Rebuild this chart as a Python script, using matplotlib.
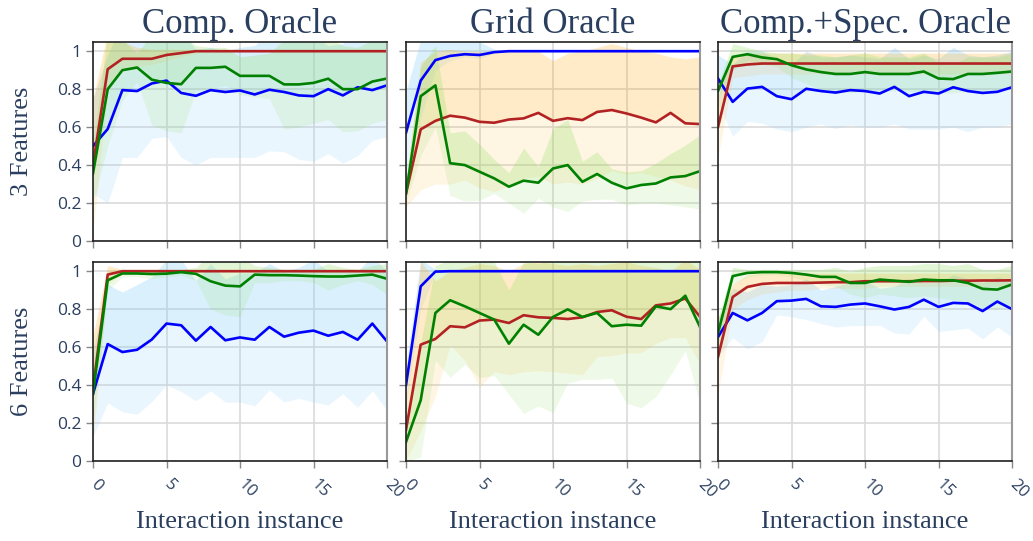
import matplotlib.pyplot as plt

x = list(range(21))

# ---- 3 features, Comp. Oracle
f3_comp_blue = [0.50, 0.59, 0.795, 0.79, 0.83, 0.845, 0.78, 0.765, 0.795, 0.785, 0.793, 0.772, 0.797, 0.785, 0.767, 0.763, 0.80, 0.767, 0.81, 0.795, 0.82]
f3_comp_blue_lo = [0.25, 0.20, 0.44, 0.44, 0.54, 0.55, 0.44, 0.40, 0.44, 0.44, 0.44, 0.44, 0.475, 0.47, 0.43, 0.42, 0.46, 0.41, 0.45, 0.53, 0.55]
f3_comp_blue_hi = [0.75, 0.98, 1.15, 1.14, 1.12, 1.14, 1.10, 1.01, 1.02, 1.00, 1.02, 1.03, 1.10, 1.10, 1.10, 1.08, 1.03, 1.04, 1.15, 1.10, 1.10]
f3_comp_red = [0.40, 0.905, 0.96, 0.96, 0.96, 0.98, 0.99, 1.0, 1.0, 1.0, 1.0, 1.0, 1.0, 1.0, 1.0, 1.0, 1.0, 1.0, 1.0, 1.0, 1.0]
f3_comp_red_lo = [0.05, 0.80, 0.90, 0.92, 0.93, 0.95, 0.97, 0.99, 1.0, 1.0, 1.0, 1.0, 1.0, 1.0, 1.0, 1.0, 1.0, 1.0, 1.0, 1.0, 1.0]
f3_comp_red_hi = [0.75, 1.10, 1.05, 1.02, 1.01, 1.01, 1.01, 1.01, 1.0, 1.0, 1.0, 1.0, 1.0, 1.0, 1.0, 1.0, 1.0, 1.0, 1.0, 1.0, 1.0]
f3_comp_green = [0.356, 0.80, 0.90, 0.914, 0.85, 0.833, 0.826, 0.912, 0.912, 0.918, 0.87, 0.87, 0.87, 0.825, 0.825, 0.833, 0.855, 0.80, 0.80, 0.84, 0.856]
f3_comp_green_lo = [0.20, 0.50, 0.74, 0.84, 0.61, 0.58, 0.57, 0.79, 0.80, 0.82, 0.77, 0.76, 0.75, 0.59, 0.60, 0.62, 0.64, 0.575, 0.58, 0.62, 0.64]
f3_comp_green_hi = [0.50, 1.10, 1.06, 0.99, 1.09, 1.09, 1.08, 1.03, 1.02, 1.02, 0.97, 0.98, 0.99, 1.06, 1.05, 1.05, 1.07, 1.03, 1.02, 1.06, 1.07]

# ---- 3 features, Grid Oracle
f3_grid_blue = [0.57, 0.845, 0.953, 0.975, 0.984, 0.98, 0.995, 1.0, 1.0, 1.0, 1.0, 1.0, 1.0, 1.0, 1.0, 1.0, 1.0, 1.0, 1.0, 1.0, 1.0]
f3_grid_blue_lo = [0.35, 0.65, 0.90, 0.95, 0.97, 0.96, 0.99, 1.0, 1.0, 1.0, 1.0, 1.0, 1.0, 1.0, 1.0, 1.0, 1.0, 1.0, 1.0, 1.0, 1.0]
f3_grid_blue_hi = [0.79, 1.06, 1.06, 1.06, 1.06, 1.05, 1.01, 1.0, 1.0, 1.0, 1.0, 1.0, 1.0, 1.0, 1.0, 1.0, 1.0, 1.0, 1.0, 1.0, 1.0]
f3_grid_red = [0.25, 0.588, 0.633, 0.66, 0.65, 0.628, 0.623, 0.64, 0.646, 0.675, 0.633, 0.647, 0.637, 0.68, 0.69, 0.672, 0.65, 0.625, 0.675, 0.62, 0.616]
f3_grid_red_lo = [0.18, 0.27, 0.30, 0.30, 0.32, 0.28, 0.26, 0.29, 0.33, 0.34, 0.30, 0.31, 0.30, 0.33, 0.37, 0.35, 0.36, 0.34, 0.32, 0.29, 0.27]
f3_grid_red_hi = [0.32, 0.94, 1.0, 1.01, 1.0, 1.0, 0.99, 1.0, 1.0, 1.0, 0.95, 0.99, 1.0, 1.02, 1.04, 1.02, 1.0, 0.99, 0.97, 0.96, 0.97]
f3_grid_green = [0.25, 0.763, 0.82, 0.41, 0.40, 0.365, 0.33, 0.286, 0.318, 0.307, 0.382, 0.40, 0.312, 0.353, 0.307, 0.277, 0.295, 0.303, 0.335, 0.342, 0.368]
f3_grid_green_lo = [0.20, 0.45, 0.60, 0.24, 0.21, 0.215, 0.25, 0.20, 0.146, 0.225, 0.18, 0.155, 0.21, 0.22, 0.22, 0.19, 0.20, 0.20, 0.19, 0.18, 0.168]
f3_grid_green_hi = [0.30, 0.92, 1.03, 0.57, 0.58, 0.51, 0.43, 0.36, 0.49, 0.39, 0.59, 0.64, 0.42, 0.47, 0.38, 0.365, 0.37, 0.41, 0.46, 0.505, 0.56]

# ---- 3 features, Comp.+Spec. Oracle
f3_spec_blue = [0.856, 0.733, 0.803, 0.812, 0.763, 0.747, 0.802, 0.79, 0.782, 0.795, 0.79, 0.777, 0.812, 0.763, 0.786, 0.777, 0.81, 0.79, 0.78, 0.786, 0.81]
f3_spec_blue_lo = [0.73, 0.55, 0.63, 0.62, 0.59, 0.575, 0.60, 0.616, 0.593, 0.61, 0.60, 0.60, 0.616, 0.59, 0.59, 0.59, 0.60, 0.575, 0.60, 0.60, 0.616]
f3_spec_blue_hi = [0.98, 0.93, 1.0, 1.0, 0.96, 0.93, 1.0, 0.97, 0.97, 0.98, 0.97, 0.96, 1.02, 0.96, 0.98, 0.96, 1.02, 0.98, 0.97, 0.98, 1.0]
f3_spec_red = [0.60, 0.92, 0.93, 0.935, 0.935, 0.935, 0.935, 0.935, 0.935, 0.935, 0.935, 0.935, 0.935, 0.935, 0.935, 0.935, 0.935, 0.935, 0.935, 0.935, 0.935]
f3_spec_red_lo = [0.44, 0.86, 0.87, 0.88, 0.88, 0.88, 0.88, 0.88, 0.88, 0.88, 0.88, 0.88, 0.88, 0.88, 0.88, 0.88, 0.88, 0.88, 0.88, 0.88, 0.88]
f3_spec_red_hi = [0.76, 0.98, 0.99, 0.99, 0.99, 0.99, 0.99, 0.99, 0.99, 0.99, 0.99, 0.99, 0.99, 0.99, 0.99, 0.99, 0.99, 0.99, 0.99, 0.99, 0.99]
f3_spec_green = [0.79, 0.97, 0.984, 0.967, 0.958, 0.926, 0.904, 0.89, 0.88, 0.88, 0.89, 0.88, 0.88, 0.88, 0.893, 0.856, 0.853, 0.88, 0.88, 0.886, 0.893]
f3_spec_green_lo = [0.75, 0.90, 0.95, 0.93, 0.92, 0.86, 0.83, 0.80, 0.79, 0.78, 0.79, 0.79, 0.79, 0.79, 0.79, 0.78, 0.78, 0.79, 0.79, 0.80, 0.80]
f3_spec_green_hi = [0.83, 1.04, 1.02, 1.0, 0.99, 0.99, 0.98, 0.98, 0.97, 0.98, 0.99, 0.97, 0.97, 0.97, 0.99, 0.94, 0.93, 0.97, 0.97, 0.97, 0.99]

# ---- 6 features, Comp. Oracle
f6_comp_blue = [0.354, 0.616, 0.574, 0.586, 0.64, 0.724, 0.715, 0.634, 0.706, 0.636, 0.651, 0.639, 0.706, 0.655, 0.676, 0.687, 0.66, 0.68, 0.639, 0.724, 0.63]
f6_comp_blue_lo = [0.13, 0.305, 0.26, 0.246, 0.313, 0.40, 0.366, 0.317, 0.37, 0.31, 0.31, 0.29, 0.375, 0.31, 0.33, 0.31, 0.295, 0.354, 0.283, 0.371, 0.266]
f6_comp_blue_hi = [0.58, 0.93, 0.89, 0.93, 0.97, 1.06, 1.06, 0.95, 1.04, 0.96, 0.99, 0.99, 1.04, 1.0, 1.02, 1.06, 1.0, 1.0, 1.0, 1.08, 1.0]
f6_comp_red = [0.38, 0.982, 1.0, 1.0, 1.0, 1.0, 1.0, 1.0, 1.0, 1.0, 1.0, 1.0, 1.0, 1.0, 1.0, 1.0, 1.0, 1.0, 1.0, 1.0, 1.0]
f6_comp_red_lo = [0.10, 0.93, 0.99, 1.0, 1.0, 1.0, 1.0, 1.0, 1.0, 1.0, 1.0, 1.0, 1.0, 1.0, 1.0, 1.0, 1.0, 1.0, 1.0, 1.0, 1.0]
f6_comp_red_hi = [0.66, 1.03, 1.01, 1.0, 1.0, 1.0, 1.0, 1.0, 1.0, 1.0, 1.0, 1.0, 1.0, 1.0, 1.0, 1.0, 1.0, 1.0, 1.0, 1.0, 1.0]
f6_comp_green = [0.354, 0.952, 0.988, 0.988, 0.985, 0.987, 0.995, 0.986, 0.947, 0.924, 0.92, 0.982, 0.979, 0.979, 0.977, 0.974, 0.972, 0.972, 0.977, 0.982, 0.96]
f6_comp_green_lo = [0.20, 0.90, 0.97, 0.97, 0.96, 0.97, 0.98, 0.95, 0.80, 0.77, 0.76, 0.94, 0.94, 0.95, 0.95, 0.94, 0.90, 0.93, 0.95, 0.93, 0.877]
f6_comp_green_hi = [0.50, 1.0, 1.01, 1.01, 1.01, 1.01, 1.01, 1.02, 1.09, 1.08, 1.08, 1.03, 1.02, 1.01, 1.01, 1.01, 1.04, 1.02, 1.01, 1.03, 1.04]

# ---- 6 features, Grid Oracle
f6_grid_blue = [0.40, 0.92, 0.998, 1.0, 1.0, 1.0, 1.0, 1.0, 1.0, 1.0, 1.0, 1.0, 1.0, 1.0, 1.0, 1.0, 1.0, 1.0, 1.0, 1.0, 1.0]
f6_grid_blue_lo = [0.30, 0.80, 0.99, 1.0, 1.0, 1.0, 1.0, 1.0, 1.0, 1.0, 1.0, 1.0, 1.0, 1.0, 1.0, 1.0, 1.0, 1.0, 1.0, 1.0, 1.0]
f6_grid_blue_hi = [0.50, 1.06, 1.01, 1.0, 1.0, 1.0, 1.0, 1.0, 1.0, 1.0, 1.0, 1.0, 1.0, 1.0, 1.0, 1.0, 1.0, 1.0, 1.0, 1.0, 1.0]
f6_grid_red = [0.164, 0.613, 0.643, 0.71, 0.704, 0.74, 0.745, 0.727, 0.768, 0.757, 0.754, 0.748, 0.757, 0.785, 0.794, 0.76, 0.748, 0.82, 0.83, 0.856, 0.76]
f6_grid_red_lo = [0.0, 0.16, 0.34, 0.61, 0.53, 0.39, 0.47, 0.455, 0.47, 0.475, 0.47, 0.463, 0.455, 0.55, 0.555, 0.57, 0.57, 0.62, 0.65, 0.65, 0.51]
f6_grid_red_hi = [0.33, 1.05, 0.95, 1.0, 1.02, 1.04, 1.03, 1.0, 1.04, 1.05, 1.04, 1.03, 1.04, 1.03, 1.04, 1.05, 1.03, 1.02, 1.0, 1.06, 1.01]
f6_grid_green = [0.10, 0.32, 0.78, 0.847, 0.815, 0.78, 0.745, 0.618, 0.718, 0.665, 0.759, 0.799, 0.759, 0.78, 0.71, 0.718, 0.713, 0.815, 0.80, 0.871, 0.706]
f6_grid_green_lo = [0.0, 0.02, 0.53, 0.44, 0.51, 0.44, 0.45, 0.35, 0.25, 0.29, 0.255, 0.41, 0.43, 0.43, 0.437, 0.305, 0.28, 0.34, 0.454, 0.58, 0.305]
f6_grid_green_hi = [0.20, 0.62, 1.03, 1.06, 1.10, 1.10, 1.05, 0.90, 1.05, 1.04, 1.06, 1.05, 1.05, 1.06, 1.05, 1.05, 1.05, 1.06, 1.05, 1.16, 1.05]

# ---- 6 features, Comp.+Spec. Oracle
f6_spec_blue = [0.653, 0.78, 0.741, 0.78, 0.842, 0.845, 0.854, 0.815, 0.812, 0.824, 0.83, 0.815, 0.798, 0.812, 0.85, 0.812, 0.833, 0.83, 0.79, 0.84, 0.80]
f6_spec_blue_lo = [0.55, 0.65, 0.59, 0.63, 0.77, 0.76, 0.745, 0.724, 0.706, 0.713, 0.713, 0.715, 0.674, 0.669, 0.762, 0.683, 0.69, 0.70, 0.643, 0.706, 0.653]
f6_spec_blue_hi = [0.75, 0.91, 0.89, 0.93, 0.92, 0.93, 0.96, 0.90, 0.92, 0.94, 0.95, 0.91, 0.92, 0.96, 0.94, 0.94, 0.98, 0.96, 0.94, 0.97, 0.95]
f6_spec_red = [0.548, 0.864, 0.917, 0.933, 0.938, 0.938, 0.938, 0.94, 0.942, 0.942, 0.947, 0.947, 0.947, 0.947, 0.948, 0.948, 0.95, 0.95, 0.951, 0.951, 0.952]
f6_spec_red_lo = [0.35, 0.80, 0.85, 0.88, 0.89, 0.90, 0.90, 0.91, 0.91, 0.91, 0.91, 0.92, 0.92, 0.92, 0.92, 0.92, 0.92, 0.92, 0.92, 0.92, 0.92]
f6_spec_red_hi = [0.75, 0.93, 0.98, 0.99, 0.99, 0.99, 0.99, 0.99, 0.99, 0.99, 0.99, 0.99, 0.99, 0.99, 0.99, 0.99, 0.99, 0.99, 0.99, 0.99, 0.99]
f6_spec_green = [0.674, 0.974, 0.991, 0.995, 0.995, 0.991, 0.982, 0.97, 0.97, 0.938, 0.938, 0.956, 0.95, 0.944, 0.956, 0.952, 0.952, 0.938, 0.907, 0.903, 0.93]
f6_spec_green_lo = [0.60, 0.93, 0.97, 0.98, 0.98, 0.97, 0.95, 0.93, 0.92, 0.88, 0.86, 0.88, 0.87, 0.86, 0.87, 0.86, 0.85, 0.84, 0.81, 0.80, 0.83]
f6_spec_green_hi = [0.75, 1.02, 1.01, 1.01, 1.01, 1.01, 1.01, 1.01, 1.02, 1.0, 1.02, 1.03, 1.03, 1.03, 1.04, 1.04, 1.03, 1.04, 1.01, 1.01, 1.03]

titles = ['Comp. Oracle', 'Grid Oracle', 'Comp.+Spec. Oracle']
row_labels = ['3 Features', '6 Features']
xlabel = 'Interaction instance'
yticks = [0, 0.2, 0.4, 0.6, 0.8, 1]
ytick_labels = ['0', '0.2', '0.4', '0.6', '0.8', '1']
xticks = [0, 5, 10, 15, 20]

panels = [
    [(f3_comp_blue, f3_comp_blue_lo, f3_comp_blue_hi), (f3_comp_red, f3_comp_red_lo, f3_comp_red_hi), (f3_comp_green, f3_comp_green_lo, f3_comp_green_hi)],
    [(f3_grid_blue, f3_grid_blue_lo, f3_grid_blue_hi), (f3_grid_red, f3_grid_red_lo, f3_grid_red_hi), (f3_grid_green, f3_grid_green_lo, f3_grid_green_hi)],
    [(f3_spec_blue, f3_spec_blue_lo, f3_spec_blue_hi), (f3_spec_red, f3_spec_red_lo, f3_spec_red_hi), (f3_spec_green, f3_spec_green_lo, f3_spec_green_hi)],
    [(f6_comp_blue, f6_comp_blue_lo, f6_comp_blue_hi), (f6_comp_red, f6_comp_red_lo, f6_comp_red_hi), (f6_comp_green, f6_comp_green_lo, f6_comp_green_hi)],
    [(f6_grid_blue, f6_grid_blue_lo, f6_grid_blue_hi), (f6_grid_red, f6_grid_red_lo, f6_grid_red_hi), (f6_grid_green, f6_grid_green_lo, f6_grid_green_hi)],
    [(f6_spec_blue, f6_spec_blue_lo, f6_spec_blue_hi), (f6_spec_red, f6_spec_red_lo, f6_spec_red_hi), (f6_spec_green, f6_spec_green_lo, f6_spec_green_hi)],
]

line_colors = ['#0000ff', '#b22222', '#008000']
band_colors = ['#87cefa', '#ffa500', '#8fe060']
band_alpha_up = [0.30, 0.22, 0.26]
band_alpha_lo = [0.17, 0.11, 0.15]

text_col = '#2a3f5f'
W, H = 1033, 541
fig = plt.figure(figsize=(W / 100, H / 100), dpi=100)

lefts = [93, 406, 718]
aw = 294
tops = [41.7, 261.7]
ah = 199.3

for i in range(6):
    r, c = divmod(i, 3)
    ax = fig.add_axes([lefts[c] / W, 1 - (tops[r] + ah) / H, aw / W, ah / H])
    for k, (m, lo, hi) in enumerate(panels[i]):
        ax.fill_between(x, m, hi, color=band_colors[k], alpha=band_alpha_up[k], lw=0)
        ax.fill_between(x, lo, m, color=band_colors[k], alpha=band_alpha_lo[k], lw=0)
        ax.plot(x, m, color=line_colors[k], lw=1.9)
    ax.set_xlim(0, 20)
    ax.set_ylim(0, 1.05)
    ax.set_xticks(xticks)
    ax.set_yticks(yticks)
    ax.grid(True, color='#dadada', lw=1.2)
    ax.set_axisbelow(True)
    ax.tick_params(direction='out', length=5, width=1, color='#888888',
                   labelcolor=text_col, labelsize=12.5)
    for s in ['left', 'top', 'bottom']:
        ax.spines[s].set_color('#222222')
        ax.spines[s].set_linewidth(1.2)
    ax.spines['right'].set_color('#999999')
    ax.spines['right'].set_linewidth(1.5)
    if c == 0:
        ax.set_yticklabels(ytick_labels, family='Open Sans')
    else:
        ax.set_yticklabels([])
    if r == 1:
        ax.set_xticklabels([str(t) for t in xticks], rotation=-45, ha='left', va='center',
                           rotation_mode='anchor', family='Open Sans', fontsize=12)
        ax.tick_params(axis='x', pad=10)
        fig.text((lefts[c] + aw / 2) / W, 1 - 522 / H, xlabel, ha='center', va='center',
                 family='Liberation Serif', fontsize=19, color=text_col)
    else:
        ax.set_xticklabels([])
        ax.set_title(titles[c], family='Liberation Serif', fontsize=25, color=text_col, pad=6)
    if c == 0:
        fig.text(22 / W, 1 - (tops[r] + ah / 2) / H, row_labels[r], rotation=90,
                 ha='center', va='center', family='Liberation Serif', fontsize=19, color=text_col)

fig.savefig('out.png', dpi=100)
